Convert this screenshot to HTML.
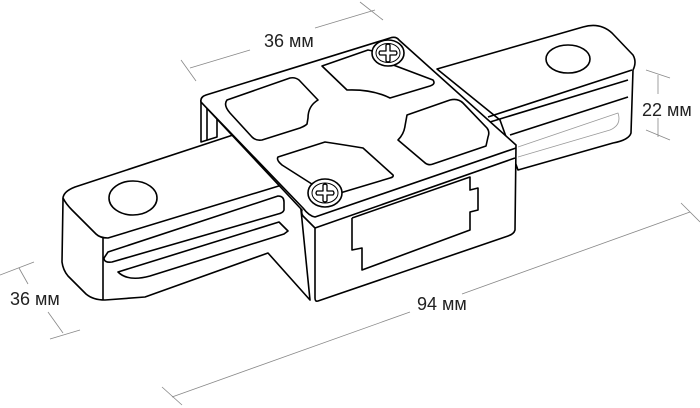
<!DOCTYPE html>
<html><head><meta charset="utf-8"><style>
html,body{margin:0;padding:0;background:#fff;width:700px;height:408px;overflow:hidden}
svg{display:block}
text{font-family:"Liberation Sans",sans-serif;font-size:18px;fill:#222}
</style></head><body>
<svg width="700" height="408" viewBox="0 0 700 408" xmlns="http://www.w3.org/2000/svg">
<g fill="none" stroke="#888" stroke-width="0.8">
  <line x1="190" y1="68" x2="250" y2="50"/>
  <line x1="315" y1="28" x2="375" y2="10"/>
  <line x1="181" y1="60" x2="196" y2="81"/>
  <line x1="360" y1="2" x2="383" y2="20"/>
  <line x1="646" y1="70" x2="670" y2="78"/>
  <line x1="646" y1="130" x2="670" y2="140"/>
  <line x1="658" y1="75" x2="658" y2="94"/>
  <line x1="658" y1="118" x2="658" y2="137"/>
  <line x1="0" y1="275" x2="34" y2="262"/>
  <line x1="19" y1="268" x2="28" y2="284"/>
  <line x1="48" y1="312" x2="63" y2="333"/>
  <line x1="50" y1="339" x2="80" y2="330"/>
  <line x1="172" y1="397" x2="410" y2="312"/>
  <line x1="462" y1="294" x2="690" y2="212"/>
  <line x1="162" y1="387" x2="182" y2="405"/>
  <line x1="681" y1="203" x2="700" y2="222"/>
</g>
<g fill="#fff" stroke="#000" stroke-width="1.6" stroke-linejoin="round">
  <path d="M437,69 L583,27 Q600,22 612,33 L633,55 Q637,62 633,70 L631,133 Q629,140 613,143 L518,170 L500,120 Z"/>
  <path d="M488,117 L632,70"/>
  <path d="M490,122 L628,80"/>
  <path d="M510,135 L628,97"/>
  <path d="M518,147 L618,113 Q622,125 610,130 L518,157" stroke="#999" stroke-width="0.8"/>
  <ellipse cx="568" cy="59" rx="22" ry="14"/>
  <path d="M201,100 L201,142 L217,137 L217,112"/>
  <path d="M207,108 L207,140"/>
  <path d="M233,135 L75,187 Q62,192 63,200 L62,262 Q63,270 68,276 L86,294 Q93,300 105,300 L145,297 L268,253 L310,300 L300,200 L290,160 Z"/>
  <path d="M63,198 Q66,204 72,210 L96,234 Q100,238 108,238 L282,185"/>
  <path d="M103,238 L103,300"/>
  <path d="M108,252 L278,196 Q284,196 284,202 L284,210 Q283,213 278,214 L112,262 Q104,263 104,258 Z"/>
  <path d="M118,272 L279,222 L288,231 L284,234 L150,276 Q128,282 118,272 Z"/>
  <ellipse cx="133" cy="198" rx="24" ry="17"/>
  <path d="M201,102 Q200,97 206,95 L390,38 Q396,36 399,40 L516,145 L515,230 Q514,234 508,236 L318,301 Q315,302 315,298 L315,228 L303,216 Q301,213 302,210 Z"/>
  <path d="M201,102 L303,208 Q309,216 315,217 L516,148"/>
  <path d="M315,228 L515,158"/>
  <path d="M352,218 L352,250 L362,248 L362,270 L470,230 L470,212 L478,210 L478,188 L470,190 L470,177 L352,218"/>
  <path d="M227,100 L290,78 Q295,77 299,80 L318,100 Q308,106 308,118 L307,124 Q305,126 300,128 L262,140 Q256,141 252,137 L230,113 Q223,105 227,100 Z"/>
  <path d="M322,66 L368,50 Q380,52 380,60 L433,80 Q436,84 430,86 L390,98 Q372,89 347,90 Z"/>
  <path d="M407,115 L450,100 Q458,98 463,103 L487,128 Q490,132 488,137 L486,146 L433,164 Q428,166 424,162 L398,140 Q404,134 405,126 Z"/>
  <path d="M278,157 L325,142 Q345,145 363,148 L393,175 Q394,177 390,178 L340,193 Q330,190 315,186 L282,165 Q276,160 278,157 Z"/>
  <ellipse cx="388" cy="53" rx="16" ry="13"/>
  <ellipse cx="388" cy="53" rx="12" ry="9.5" stroke-width="1"/>
  <path d="M386,45 Q388,43 390,45 L390,51 L396,51 Q398,53 396,55 L390,55 L390,61 Q388,63 386,61 L386,55 L380,55 Q378,53 380,51 L386,51 Z" stroke-width="1.3"/>
  <ellipse cx="325" cy="193" rx="17" ry="14"/>
  <ellipse cx="325" cy="193" rx="13" ry="10" stroke-width="1"/>
  <path d="M323,185 Q325,183 327,185 L327,191 L333,191 Q335,193 333,195 L327,195 L327,201 Q325,203 323,201 L323,195 L317,195 Q315,193 317,191 L323,191 Z" stroke-width="1.3"/>
</g>
<text x="264" y="47">36 мм</text>
<text x="642" y="116">22 мм</text>
<text x="417" y="310">94 мм</text>
<text x="10" y="305">36 мм</text>
</svg>
</body></html>
